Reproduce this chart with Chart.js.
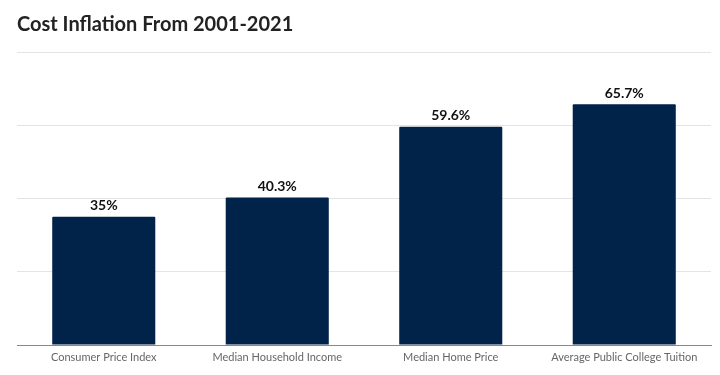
<!DOCTYPE html>
<html>
<head>
<meta charset="utf-8">
<script src="https://cdn.jsdelivr.net/npm/chart.js@4/dist/chart.umd.min.js"></script>
<style>
    html, body { margin: 0; padding: 0; background: #fff; }
    #wrap { width: 720px; height: 375px; }
</style>
</head>
<body>
<div id="wrap"><canvas id="costChart" width="720" height="375"></canvas></div>
<script>
const categories = ["Consumer Price Index", "Median Household Income", "Median Home Price", "Average Public College Tuition"];
const inflation = [35, 40.3, 59.6, 65.7];
const valueLabels = ["35%", "40.3%", "59.6%", "65.7%"];

// draw the value above each bar
const barLabels = {
    id: 'barLabels',
    afterDatasetsDraw(chart) {
        const ctx = chart.ctx;
        const meta = chart.getDatasetMeta(0);
        ctx.save();
        ctx.font = 'bold 14px Lato';
        ctx.fillStyle = '#111';
        ctx.textAlign = 'center';
        ctx.textBaseline = 'bottom';
        meta.data.forEach(function(bar, i) {
            ctx.fillText(valueLabels[i], bar.x, bar.y - 4);
        });
        ctx.restore();
    }
};

window.onload = function() {
    const ctx = document.getElementById('costChart').getContext("2d");
    new Chart(ctx, {
        type: 'bar',
        data: {
            labels: categories,
            datasets: [{
                data: inflation,
                backgroundColor: '#01234a',
                barPercentage: 0.594,
                categoryPercentage: 1.0,
                borderRadius: 1
            }]
        },
        options: {
            responsive: false,
            animation: false,
            layout: {
                padding: { left: 17, right: 9, top: 0, bottom: 0 }
            },
            plugins: {
                legend: { display: false },
                tooltip: { enabled: false },
                title: {
                    display: true,
                    text: 'Cost Inflation From 2001-2021',
                    align: 'start',
                    color: '#222',
                    font: { family: 'Lato', size: 20, weight: 'bold' },
                    padding: { top: 13, bottom: 15 }
                }
            },
            scales: {
                x: {
                    grid: { display: false, drawTicks: false },
                    border: { display: true, color: '#888', width: 1 },
                    ticks: {
                        color: '#666',
                        padding: 6,
                        maxRotation: 0,
                        font: { family: 'Lato', size: 11 }
                    },
                    afterFit: function(scale) { scale.height = 30; }
                },
                y: {
                    min: 0,
                    max: 80,
                    ticks: { display: false, stepSize: 20 },
                    border: { display: false },
                    grid: {
                        drawTicks: false,
                        color: function(c) { return c.tick.value === 0 ? '#888' : '#e4e4e4'; }
                    }
                }
            }
        },
        plugins: [barLabels]
    });
};
</script>
</body>
</html>
